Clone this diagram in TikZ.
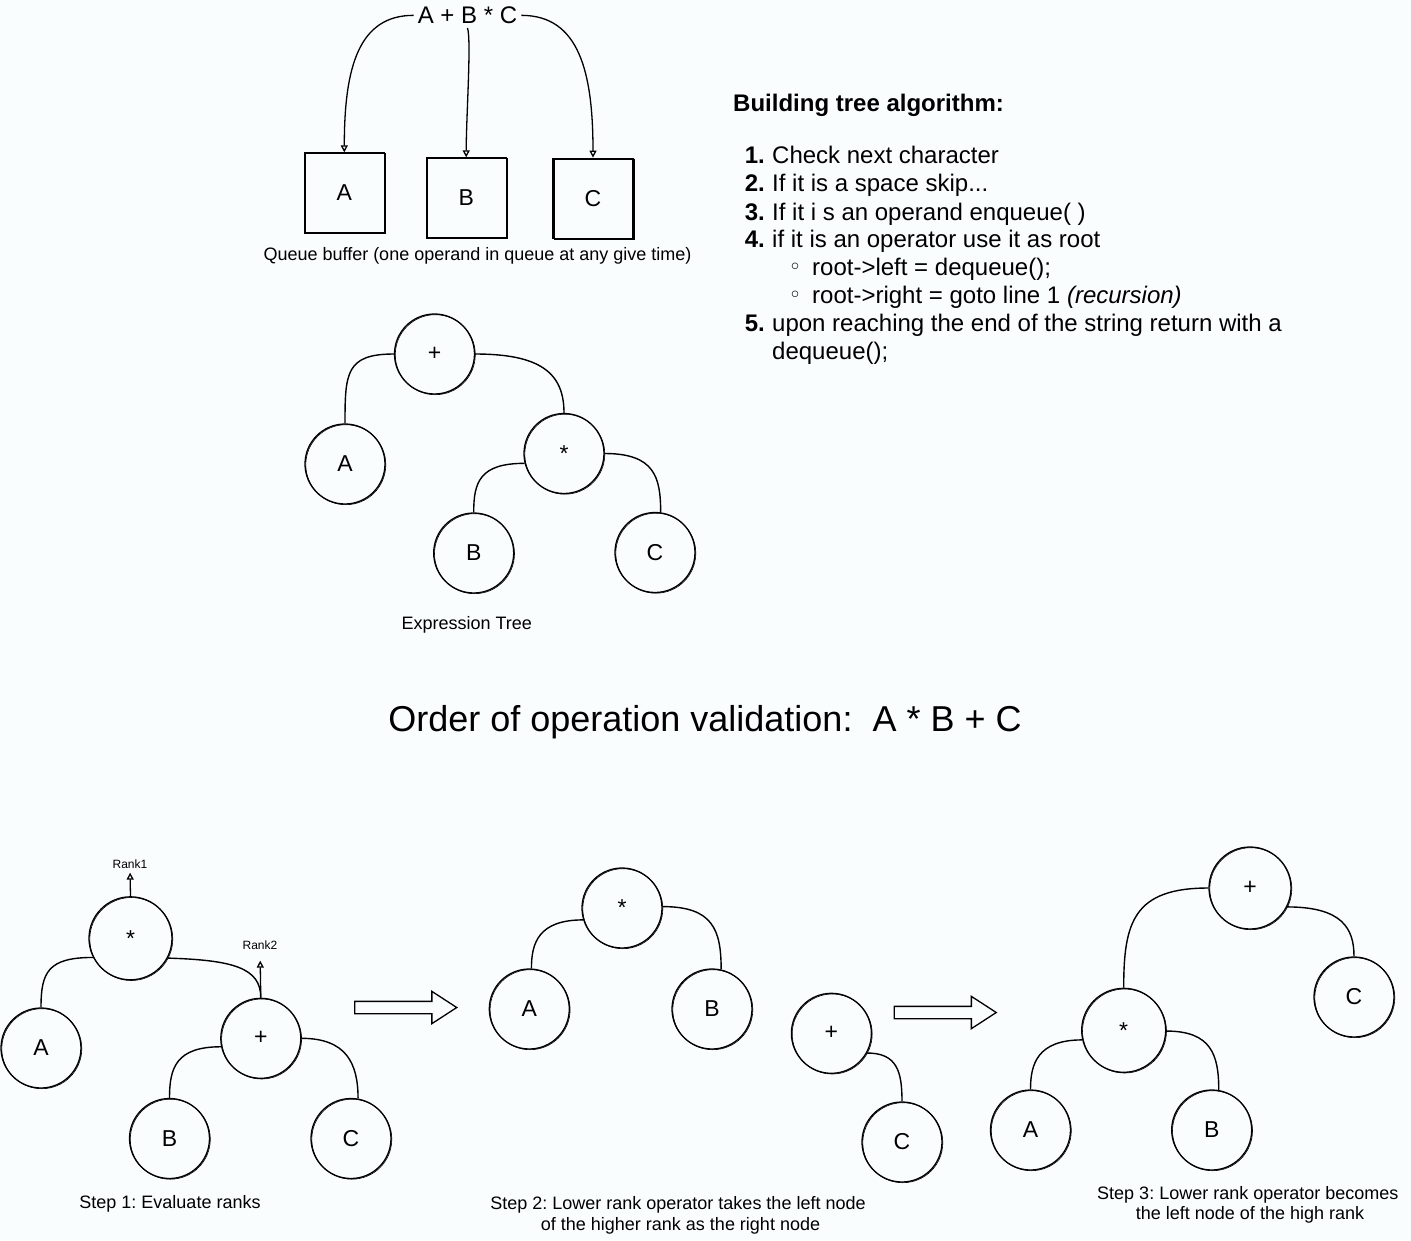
\documentclass[tikz,border=0pt]{standalone}
\usepackage{fontspec}
\setmainfont{Liberation Sans}
\newfontfamily\symfont{DejaVu Sans}
\usetikzlibrary{arrows.meta,shapes.arrows}
\definecolor{bgc}{RGB}{249,253,254}
\frenchspacing
\tikzset{
  sk/.style={draw, line width=1.3pt, preaction={draw, line width=0.6pt, transform canvas={xshift=0.8pt, yshift=-0.7pt}}},
  tnode/.style={sk, circle, minimum size=80pt, inner sep=0pt, font=\fontsize{23}{27}\selectfont},
  qbox/.style={sk, rectangle, minimum size=80pt, inner sep=0pt, font=\fontsize{23}{27}\selectfont},
  conn/.style={line width=1.4pt},
  qarrow/.style={line width=1.3pt, -{Triangle[open, length=7pt, width=7pt]}},
  rarrow/.style={line width=1.3pt, -{Triangle[open, length=7pt, width=7pt]}},
  capt/.style={anchor=base, font=\fontsize{18}{21}\selectfont},
  alg/.style={anchor=base west, font=\fontsize{24}{28}\selectfont, inner sep=0pt},
  algnum/.style={anchor=base east, font=\fontsize{24}{28}\selectfont\bfseries, inner sep=0pt},
  bullet/.style={anchor=base, font=\fontsize{22}{26}\symfont, inner sep=0pt},
  rank/.style={anchor=base, font=\fontsize{12}{14}\selectfont, inner sep=1pt},
  bigarrow/.style={draw, line width=1.3pt, single arrow, minimum height=102pt, minimum width=31pt, inner sep=0pt, inner ysep=5.5pt, single arrow head extend=10pt, single arrow tip angle=66}
}
\begin{document}
\begin{tikzpicture}[x=1pt, y=-1pt]
\fill[bgc] (0,0) rectangle (1411,1240);
\useasboundingbox (0,0) rectangle (1411,1240);

% ---------- Queue part ----------
\node[anchor=base, font=\fontsize{24}{28}\selectfont, inner sep=4pt] (expr) at (467.5,23.6) {A + B * C};
\node[qbox] (qA) at (344.3,193) {A};
\node[qbox] (qB) at (466.2,198) {B};
\node[qbox] (qC) at (593,198.3) {C};
\draw[qarrow] (expr.west) .. controls +(-55,0) and +(0,-85) .. (qA.north);
\draw[qarrow] (expr.south) .. controls +(4,12) and +(0,-40) .. (qB.north);
\draw[qarrow] (expr.east) .. controls +(58,0) and +(0,-85) .. (qC.north);
\node[capt] (qcap) at (477.5,260.5) {Queue buffer (one operand in queue at any give time)};

% ---------- Algorithm ----------
\node[anchor=base west, font=\fontsize{24}{28}\selectfont\bfseries, inner sep=0pt] (algh) at (733,111.8) {Building tree algorithm:};
\node[algnum] (n1) at (765,163.5) {1.};
\node[alg] (l1) at (772,163.5) {Check next character};
\node[algnum] (n2) at (765,191.8) {2.};
\node[alg] (l2) at (772,191.8) {If it is a space skip...};
\node[algnum] (n3) at (765,220.2) {3.};
\node[alg] (l3) at (772,220.2) {If it i s an operand enqueue( )};
\node[algnum] (n4) at (765,247.8) {4.};
\node[alg] (l4) at (772,247.8) {if it is an operator use it as root};
\node[bullet] (b1) at (795,274.5) {◦};
\node[alg] (l41) at (812,275.8) {root->left = dequeue();};
\node[bullet] (b2) at (795,302.2) {◦};
\node[alg] (l42) at (812,303.5) {root->right = goto line 1 \textit{(recursion)}};
\node[algnum] (n5) at (765,331.8) {5.};
\node[alg] (l5) at (772,331.8) {upon reaching the end of the string return with a};
\node[alg] (l5b) at (772,359.2) {dequeue();};

% ---------- Expression tree ----------
\node[tnode] (tP) at (434.5,354) {+};
\node[tnode] (tA) at (345,464) {A};
\node[tnode] (tM) at (564,453.5) {*};
\node[tnode] (tB) at (473.7,553) {B};
\node[tnode] (tC) at (655,552.5) {C};
\draw[conn] (tP.180) .. controls +(-48,0) and +(0,-50) .. (tA.north);
\draw[conn] (tP.0) .. controls +(65,0) and +(0,-40) .. (tM.north);
\draw[conn] (tM.194) .. controls +(-45,0) and +(0,-30) .. (tB.north);
\draw[conn] (tM.0) .. controls +(50,0) and +(0,-35) .. (tC.82);
\node[capt] (tcap) at (466.7,629) {Expression Tree};

% ---------- Title ----------
\node[anchor=base, font=\fontsize{36}{42}\selectfont] (title) at (705,731) {Order of operation validation:\ \ A * B + C};

% ---------- Step 1 ----------
\node[tnode, minimum size=83pt] (s1M) at (130.5,938.3) {*};
\node[tnode] (s1A) at (41,1048) {A};
\node[tnode] (s1P) at (260.8,1038.3) {+};
\node[tnode] (s1B) at (169.5,1138.5) {B};
\node[tnode] (s1C) at (351,1138.5) {C};
\node[rank] (rk1) at (130,868.3) {Rank1};
\node[rank] (rk2) at (260,949.3) {Rank2};
\draw[rarrow, shorten >=3pt] (s1M.north) -- (rk1.south);
\draw[rarrow, shorten >=10pt] (s1P.north) -- (rk2.south);
\draw[conn] (s1M.207) .. controls +(-45,0) and +(0,-35) .. (s1A.north);
\draw[conn] (s1M.332) .. controls +(65,2) and +(0,-30) .. (s1P.north);
\draw[conn] (s1P.192) .. controls +(-45,0) and +(0,-30) .. (s1B.north);
\draw[conn] (s1P.0) .. controls +(45,0) and +(0,-35) .. (s1C.80);
\node[capt] (c1) at (170,1208.5) {Step 1: Evaluate ranks};

\node[bigarrow] (ar1) at (401,1007.5) {};

% ---------- Step 2 ----------
\node[tnode] (s2M) at (622,908) {*};
\node[tnode] (s2A) at (529.3,1009) {A};
\node[tnode] (s2B) at (712,1009) {B};
\draw[conn] (s2M.197) .. controls +(-45,0) and +(0,-25) .. (s2A.87);
\draw[conn] (s2M.2) .. controls +(50,0) and +(0,-40) .. (s2B.77);
\node[tnode] (s2P) at (831.4,1033.3) {+};
\node[tnode] (s2C) at (902,1142) {C};
\draw[conn] (s2P.331) .. controls +(30,0) and +(0,-30) .. (s2C.north);
\node[capt] (c2a) at (678,1209.5) {Step 2: Lower rank operator takes the left node};
\node[capt] (c2b) at (680.5,1230.5) {of the higher rank as the right node};

\node[bigarrow] (ar2) at (940.5,1012.5) {};

% ---------- Step 3 ----------
\node[tnode, minimum size=82pt] (s3P) at (1250,888) {+};
\node[tnode] (s3C) at (1354,997) {C};
\node[tnode, minimum size=84pt] (s3M) at (1123.7,1030.3) {*};
\node[tnode] (s3A) at (1030.5,1130) {A};
\node[tnode] (s3B) at (1211.7,1130) {B};
\draw[conn] (s3P.180) .. controls +(-75,0) and +(0,-65) .. (s3M.north);
\draw[conn] (s3P.333) .. controls +(55,0) and +(0,-28) .. (s3C.north);
\draw[conn] (s3M.193) .. controls +(-45,0) and +(0,-25) .. (s3A.north);
\draw[conn] (s3M.359) .. controls +(45,0) and +(0,-35) .. (s3B.80);
\node[capt] (c3a) at (1247.8,1199) {Step 3: Lower rank operator becomes};
\node[capt] (c3b) at (1250,1219.8) {the left node of the high rank};
\end{tikzpicture}
\end{document}
